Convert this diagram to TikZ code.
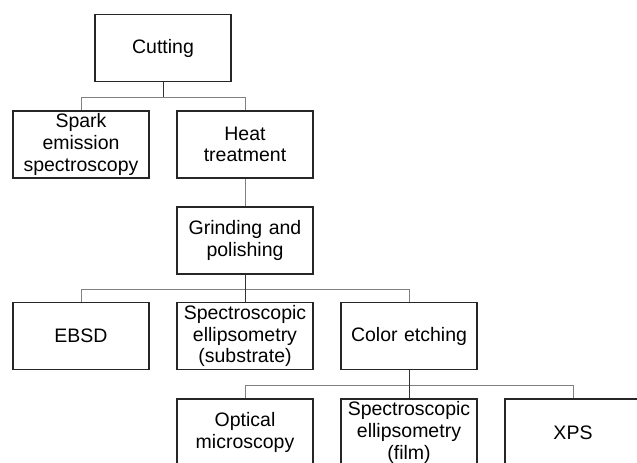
\documentclass[tikz,border=0pt]{standalone}
\usepackage{fontspec}
\setmainfont{Liberation Sans}
\usetikzlibrary{positioning,calc}
\tikzset{
  stage/.style={
    rectangle,
    draw=black!85, line width=1.3pt,
    fill=white,
    text width=128pt,
    minimum width=136pt,
    minimum height=67pt,
    inner sep=0pt,
    align=center,
    font=\fontsize{19.5pt}{21.7pt}\selectfont},
  stem/.style={draw=black!80, line width=1pt},
  branch/.style={draw=black!50, line width=1pt},
}

\begin{document}
\begin{tikzpicture}[x=1pt, y=-1pt]
    \useasboundingbox (0,0) rectangle (637,463);
    \clip (0,0) rectangle (637,463);

    % sample preparation
    \node[stage] (cut)   at (163,48)    {Cutting};
    \node[stage] (spark) at (81,144.5)  {Spark\\emission\\spectroscopy};
    \node[stage] (heat)  at (245,144.5) {Heat\\treatment};
    \node[stage] (grind) at (245,240.5) {Grinding and\\polishing};

    % characterisation
    \node[stage] (ebsd)  at (81,336)    {EBSD};
    \node[stage] (sesub) at (245,336)   {Spectroscopic\\ellipsometry\\(substrate)};
    \node[stage] (etch)  at (409,336)   {Color etching};
    \node[stage] (optic) at (245,432.5) {Optical\\microscopy};
    \node[stage] (sefilm) at (409,432.5) {Spectroscopic\\ellipsometry\\(film)};
    \node[stage] (xps)   at (573,432.5) {XPS};

    % bars of the tree
    \coordinate (bar1) at ($(cut.south)+(0,15)$);
    \coordinate (bar2) at ($(grind.south)+(0,15)$);
    \coordinate (bar3) at ($(etch.south)+(0,15)$);

    \draw[branch] (bar1) -| (spark.north);
    \draw[branch] (bar1) -| (heat.north);
    \draw[stem] (cut.south) -- (bar1);

    \draw[branch] (heat.south) -- (grind.north);

    \draw[branch] (bar2) -| (ebsd.north);
    \draw[branch] (bar2) -| (etch.north);
    \draw[stem] (grind.south) -- (sesub.north);

    \draw[branch] (bar3) -| (optic.north);
    \draw[branch] (bar3) -| (xps.north);
    \draw[stem] (etch.south) -- (sefilm.north);

\end{tikzpicture}
\end{document}
